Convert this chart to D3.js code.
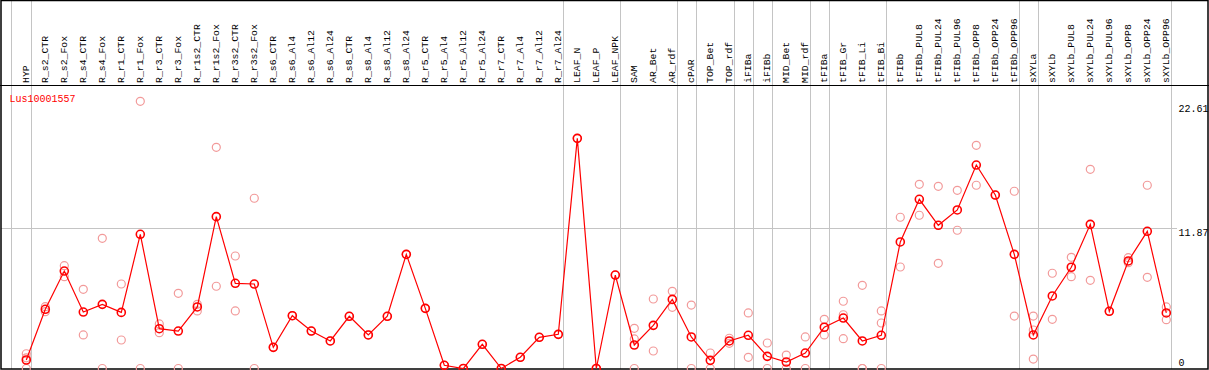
<!DOCTYPE html>
<html>
<head>
    <title>Lus10001557 expression</title>
    <script src="https://d3js.org/d3.v7.min.js"></script>
    <style>
        body {
            margin: 0;
            background: #ffffff;
        }

        text {
            font-family: "Liberation Mono", "DejaVu Sans Mono", monospace;
        }
    </style>
</head>
<body>
<script>
    // Sample names along the top
    const categories = ["HYP", "R_s2_CTR", "R_s2_Fox", "R_s4_CTR", "R_s4_Fox", "R_r1_CTR", "R_r1_Fox",
        "R_r3_CTR", "R_r3_Fox", "R_r1s2_CTR", "R_r1s2_Fox", "R_r3s2_CTR", "R_r3s2_Fox", "R_s6_CTR",
        "R_s6_Al4", "R_s6_Al12", "R_s6_Al24", "R_s8_CTR", "R_s8_Al4", "R_s8_Al12", "R_s8_Al24",
        "R_r5_CTR", "R_r5_Al4", "R_r5_Al12", "R_r5_Al24", "R_r7_CTR", "R_r7_Al4", "R_r7_Al12", "R_r7_Al24",
        "LEAF_N", "LEAF_P", "LEAF_NPK", "SAM", "AR_Bet", "AR_rdf", "cPAR", "TOP_Bet", "TOP_rdf",
        "iFIBa", "iFIBb", "MID_Bet", "MID_rdf", "tFIBa", "tFIB_Gr", "tFIB_Li", "tFIB_Bi", "tFIBb",
        "tFIBb_PUL8", "tFIBb_PUL24", "tFIBb_PUL96", "tFIBb_OPP8", "tFIBb_OPP24", "tFIBb_OPP96",
        "sXYLa", "sXYLb", "sXYLb_PUL8", "sXYLb_PUL24", "sXYLb_PUL96", "sXYLb_OPP8", "sXYLb_OPP24", "sXYLb_OPP96"];

    // Mean expression per sample (the red line)
    const meanValues = [0.72, 5.01, 8.25, 4.78, 5.43, 4.75, 11.36, 3.37, 3.17, 5.21, 12.85, 7.21, 7.15, 1.79,
        4.47, 3.17, 2.33, 4.42, 2.84, 4.42, 9.66, 5.09, 0.27, 0.0, 2.05, 0.0, 0.95, 2.64, 2.89,
        19.48, 0.0, 7.91, 1.99, 3.65, 5.85, 2.67, 0.69, 2.33, 2.81, 1.03, 0.55, 1.31, 3.49, 4.27,
        2.33, 2.81, 10.71, 14.32, 12.12, 13.42, 17.22, 14.68, 9.66, 2.84, 6.14, 8.57, 12.2, 4.84,
        9.10, 11.61, 4.70];

    // Replicate values per sample (the pale circles)
    const replicateValues = [
        [1.25, 0.9, 0.0], [5.23, 4.81], [8.70, 7.77], [6.70, 2.84], [11.02, 0.0], [7.15, 2.41],
        [22.61, 0.0], [3.77, 3.03], [6.36, 0.0], [5.43, 4.87], [18.72, 6.96], [9.52, 4.87], [14.41, 0.0],
        [1.79], [4.47], [3.17], [2.33], [4.42], [2.84], [4.42], [9.66], [5.09], [0.27], [0.0], [2.05],
        [0.0], [0.95], [2.64], [2.89], [19.48], [0.0], [7.91],
        [3.40, 2.50, 0.0], [5.88, 1.48], [6.53, 5.18], [5.37, 0.0], [1.31, 0.0], [2.56, 2.13],
        [4.70, 0.95], [2.16, 0.0], [1.14, 0.0], [2.67, 0.0], [4.16, 2.84], [5.69, 4.55, 2.52],
        [7.04, 0.0, 0.0], [4.87, 3.85, 0.0], [12.8, 8.59], [15.59, 12.97], [15.42, 8.90], [15.08, 11.70],
        [18.89, 15.51], [14.68], [15.0, 4.44], [4.44, 3.26, 0.80], [8.06, 4.16], [9.41, 7.77],
        [16.86, 7.46], [4.84], [9.38, 8.96], [15.51, 7.72], [5.21, 4.13]];

    // Last sample of each tissue group: a grey separator follows it
    const groupEnds = ["HYP", "R_r7_Al24", "LEAF_NPK", "AR_rdf", "cPAR", "TOP_rdf", "iFIBa", "iFIBb",
        "MID_rdf", "tFIBa", "tFIB_Bi", "tFIBb_OPP96", "sXYLa", "sXYLb_OPP96"];

    // Y axis labels (max and middle and zero)
    const yTicks = [22.61, 11.87, 0];
    const yTickLabels = ["22.61", "11.87", "0"];
    const geneName = "Lus10001557";

    const width = 1209;
    const height = 370;
    const headerBottom = 85.5;
    const plotBottom = 369;

    const svg = d3.select("body")
        .append("svg")
        .attr("width", width)
        .attr("height", height);

    const x = d3.scalePoint()
        .domain(categories)
        .range([26.3, 1166.3]);

    const y = d3.scaleLinear()
        .domain([0, 23.74])
        .range([368.5, 88]);

    // grey separators between tissue groups
    const sepX = [x(categories[0]) - x.step() * 0.82].concat(groupEnds.map(function (c) {
        return x(c) + 4.4;
    }));
    svg.selectAll("line.sep")
        .data(sepX)
        .enter()
        .append("line")
        .attr("class", "sep")
        .attr("x1", d => Math.round(d) + 0.5)
        .attr("x2", d => Math.round(d) + 0.5)
        .attr("y1", 0)
        .attr("y2", plotBottom)
        .attr("stroke", "#c4c4c4")
        .attr("stroke-width", 1);

    // middle horizontal grid line
    svg.append("line")
        .attr("x1", 1)
        .attr("x2", 1177)
        .attr("y1", Math.round(y(yTicks[1])) + 0.5)
        .attr("y2", Math.round(y(yTicks[1])) + 0.5)
        .attr("stroke", "#c4c4c4")
        .attr("stroke-width", 1);

    // frame and header line
    svg.append("rect")
        .attr("x", 1)
        .attr("y", 0.5)
        .attr("width", width - 2)
        .attr("height", plotBottom - 0.5)
        .attr("fill", "none")
        .attr("stroke", "black")
        .attr("stroke-width", 1.5);
    svg.append("line")
        .attr("x1", 0)
        .attr("x2", width)
        .attr("y1", headerBottom)
        .attr("y2", headerBottom)
        .attr("stroke", "black")
        .attr("stroke-width", 1.2);

    // rotated sample labels
    svg.selectAll("text.cat")
        .data(categories)
        .enter()
        .append("text")
        .attr("class", "cat")
        .attr("transform", d => "translate(" + x(d) + "," + (headerBottom - 2.5) + ") rotate(-90)")
        .attr("dy", "0.3em")
        .style("font-size", "9.8px")
        .attr("fill", "black")
        .text(d => d);

    // y axis labels on the right
    const labelDy = [10.5, 7.7, -2.5];
    svg.selectAll("text.ytick")
        .data(yTicks)
        .enter()
        .append("text")
        .attr("class", "ytick")
        .attr("x", 1178.5)
        .attr("y", (d, i) => y(d) + labelDy[i])
        .style("font-size", "10px")
        .attr("fill", "black")
        .text((d, i) => yTickLabels[i]);

    // gene name
    svg.append("text")
        .attr("x", 9.5)
        .attr("y", 102)
        .style("font-size", "10px")
        .attr("fill", "red")
        .text(geneName);

    // replicate circles
    const reps = [];
    replicateValues.forEach(function (vals, i) {
        vals.forEach(function (v) {
            reps.push({cat: categories[i], value: v});
        });
    });
    svg.selectAll("circle.rep")
        .data(reps)
        .enter()
        .append("circle")
        .attr("class", "rep")
        .attr("cx", d => x(d.cat))
        .attr("cy", d => y(d.value))
        .attr("r", 4)
        .attr("fill", "none")
        .attr("stroke", "#f29a9a")
        .attr("stroke-width", 1.2);

    // mean line
    const line = d3.line()
        .x((d, i) => x(categories[i]))
        .y(d => y(d));
    svg.append("path")
        .datum(meanValues)
        .attr("d", line)
        .attr("fill", "none")
        .attr("stroke", "red")
        .attr("stroke-width", 1.2);

    // mean markers
    svg.selectAll("circle.mean")
        .data(meanValues)
        .enter()
        .append("circle")
        .attr("class", "mean")
        .attr("cx", (d, i) => x(categories[i]))
        .attr("cy", d => y(d))
        .attr("r", 4)
        .attr("fill", "none")
        .attr("stroke", "red")
        .attr("stroke-width", 1.6);
</script>
</body>
</html>
